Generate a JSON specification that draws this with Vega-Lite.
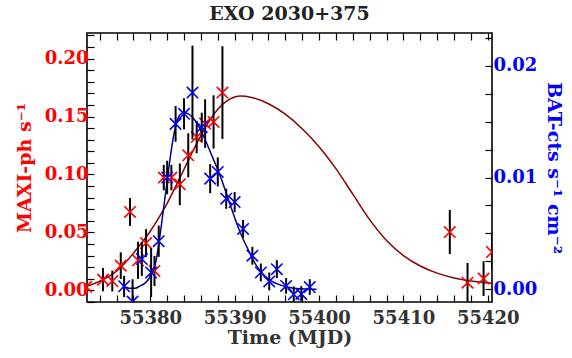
{
  "$schema": "https://vega.github.io/schema/vega-lite/v6.json",
  "width": 405,
  "height": 269,
  "autosize": {"type": "none"},
  "padding": {"left": 87, "top": 33, "right": 80, "bottom": 56},
  "background": "white",
  "title": {"text": "EXO 2030+375", "font": "DejaVu Serif", "fontSize": 19, "fontWeight": "bold", "color": "#222222", "anchor": "middle", "frame": "group", "offset": 2},
  "config": {
    "view": {"stroke": "black", "strokeWidth": 1.6},
    "axis": {"labelFont": "DejaVu Serif", "labelFontWeight": "bold", "labelFontSize": 18, "titleFont": "DejaVu Serif", "titleFontWeight": "bold", "titleFontSize": 19, "tickSize": -7, "tickColor": "black", "tickWidth": 1.2, "domain": false, "grid": false, "labelOverlap": false, "labelFlush": false}
  },
  "datasets": {
    "maxi": [
      {"t": 55372.4, "v": 0.003, "lo": -0.003, "hi": 0.009},
      {"t": 55374.4, "v": 0.0092, "lo": -0.0008, "hi": 0.0192},
      {"t": 55375.5, "v": 0.008, "lo": -0.001, "hi": 0.017},
      {"t": 55376.5, "v": 0.0213, "lo": 0.0098, "hi": 0.0328},
      {"t": 55377.6, "v": 0.0676, "lo": 0.0556, "hi": 0.0796},
      {"t": 55378.55, "v": 0.0259, "lo": 0.0099, "hi": 0.0419},
      {"t": 55379.5, "v": 0.0408, "lo": 0.0288, "hi": 0.0528},
      {"t": 55380.5, "v": 0.0167, "lo": 0.0037, "hi": 0.0297},
      {"t": 55381.6, "v": 0.0973, "lo": 0.0863, "hi": 0.1083},
      {"t": 55382.5, "v": 0.0973, "lo": 0.0863, "hi": 0.1083},
      {"t": 55383.5, "v": 0.0915, "lo": 0.0735, "hi": 0.1095},
      {"t": 55384.5, "v": 0.1165, "lo": 0.0975, "hi": 0.1355},
      {"t": 55385.5, "v": 0.1323, "lo": 0.1183, "hi": 0.1463},
      {"t": 55386.5, "v": 0.1439, "lo": 0.1229, "hi": 0.1649},
      {"t": 55387.5, "v": 0.1453, "lo": 0.1223, "hi": 0.1683},
      {"t": 55388.55, "v": 0.1707, "lo": 0.1307, "hi": 0.2107},
      {"t": 55415.5, "v": 0.0503, "lo": 0.0313, "hi": 0.0693},
      {"t": 55417.6, "v": 0.0066, "lo": -0.0104, "hi": 0.0236},
      {"t": 55419.5, "v": 0.0101, "lo": -0.0049, "hi": 0.0251},
      {"t": 55420.5, "v": 0.033, "lo": 0.018, "hi": 0.048}
    ],
    "maxifit": [
      {"t": 55372.5, "v": 0.0035},
      {"t": 55374.0, "v": 0.0078},
      {"t": 55375.0, "v": 0.0115},
      {"t": 55376.0, "v": 0.0165},
      {"t": 55377.0, "v": 0.0235},
      {"t": 55378.0, "v": 0.032},
      {"t": 55379.0, "v": 0.0412},
      {"t": 55380.0, "v": 0.051},
      {"t": 55381.0, "v": 0.0625},
      {"t": 55382.0, "v": 0.075},
      {"t": 55383.0, "v": 0.0895},
      {"t": 55384.0, "v": 0.1045},
      {"t": 55385.0, "v": 0.1195},
      {"t": 55386.0, "v": 0.1335},
      {"t": 55387.0, "v": 0.1462},
      {"t": 55388.0, "v": 0.1562},
      {"t": 55389.0, "v": 0.163},
      {"t": 55390.0, "v": 0.1668},
      {"t": 55390.7, "v": 0.1677},
      {"t": 55392.0, "v": 0.1665},
      {"t": 55394.0, "v": 0.161},
      {"t": 55396.0, "v": 0.152},
      {"t": 55398.0, "v": 0.1395},
      {"t": 55400.0, "v": 0.124},
      {"t": 55402.0, "v": 0.105},
      {"t": 55404.0, "v": 0.083},
      {"t": 55406.0, "v": 0.061},
      {"t": 55408.0, "v": 0.043},
      {"t": 55410.0, "v": 0.03},
      {"t": 55412.0, "v": 0.021},
      {"t": 55414.0, "v": 0.0148},
      {"t": 55416.0, "v": 0.0107},
      {"t": 55418.0, "v": 0.008},
      {"t": 55420.5, "v": 0.006}
    ],
    "bat": [
      {"t": 55376.9, "v": 0.00027, "lo": -0.0007, "hi": 0.0012},
      {"t": 55377.9, "v": -0.0011, "lo": -0.0031, "hi": 0.0009},
      {"t": 55379.0, "v": 0.0027, "lo": 0.0012, "hi": 0.0042},
      {"t": 55380.1, "v": 0.0015, "lo": -0.0007, "hi": 0.0037},
      {"t": 55381.0, "v": 0.0043, "lo": 0.0029, "hi": 0.0057},
      {"t": 55382.0, "v": 0.01, "lo": 0.0085, "hi": 0.0115},
      {"t": 55383.0, "v": 0.0148, "lo": 0.0132, "hi": 0.0164},
      {"t": 55384.0, "v": 0.0157, "lo": 0.0143, "hi": 0.0171},
      {"t": 55385.0, "v": 0.0176, "lo": 0.0134, "hi": 0.0218},
      {"t": 55386.1, "v": 0.0145, "lo": 0.0132, "hi": 0.0158},
      {"t": 55387.1, "v": 0.0099, "lo": 0.0086, "hi": 0.0112},
      {"t": 55388.0, "v": 0.0105, "lo": 0.0092, "hi": 0.0118},
      {"t": 55389.0, "v": 0.0081, "lo": 0.0072, "hi": 0.009},
      {"t": 55390.0, "v": 0.0078, "lo": 0.0069, "hi": 0.0087},
      {"t": 55391.0, "v": 0.0054, "lo": 0.0046, "hi": 0.0062},
      {"t": 55392.1, "v": 0.003, "lo": 0.0022, "hi": 0.0038},
      {"t": 55393.1, "v": 0.0015, "lo": 0.0007, "hi": 0.0023},
      {"t": 55394.1, "v": 0.0007, "lo": -0.0001, "hi": 0.0015},
      {"t": 55395.0, "v": 0.0018, "lo": 0.001, "hi": 0.0026},
      {"t": 55396.1, "v": 0.0003, "lo": -0.0004, "hi": 0.001},
      {"t": 55397.0, "v": -0.00045, "lo": -0.00115, "hi": 0.00025},
      {"t": 55397.9, "v": -0.00042, "lo": -0.00112, "hi": 0.00028},
      {"t": 55398.9, "v": 0.0002, "lo": -0.0005, "hi": 0.0009}
    ],
    "batfit": [
      {"t": 55376.7, "v": 0.00035},
      {"t": 55377.5, "v": 0.0001},
      {"t": 55378.2, "v": 0.0001},
      {"t": 55378.8, "v": 0.0003},
      {"t": 55379.3, "v": 0.0005},
      {"t": 55379.8, "v": 0.0009},
      {"t": 55380.3, "v": 0.0016},
      {"t": 55380.7, "v": 0.0026},
      {"t": 55381.0, "v": 0.004},
      {"t": 55381.5, "v": 0.0068},
      {"t": 55382.0, "v": 0.0097},
      {"t": 55382.5, "v": 0.0125},
      {"t": 55383.0, "v": 0.0146},
      {"t": 55383.5, "v": 0.0156},
      {"t": 55384.0, "v": 0.0158},
      {"t": 55384.5, "v": 0.0157},
      {"t": 55385.0, "v": 0.0154},
      {"t": 55385.5, "v": 0.0149},
      {"t": 55386.0, "v": 0.0142},
      {"t": 55386.5, "v": 0.0134},
      {"t": 55387.0, "v": 0.0125},
      {"t": 55387.5, "v": 0.0116},
      {"t": 55388.0, "v": 0.0107},
      {"t": 55388.5, "v": 0.0097},
      {"t": 55389.0, "v": 0.0086},
      {"t": 55389.5, "v": 0.0075},
      {"t": 55390.0, "v": 0.0064},
      {"t": 55390.5, "v": 0.0054},
      {"t": 55391.0, "v": 0.0045},
      {"t": 55391.5, "v": 0.0037},
      {"t": 55392.0, "v": 0.0029},
      {"t": 55392.6, "v": 0.0021},
      {"t": 55393.2, "v": 0.0015},
      {"t": 55394.0, "v": 0.0009},
      {"t": 55395.0, "v": 0.0005},
      {"t": 55396.0, "v": 0.00025},
      {"t": 55397.0, "v": 0.0001},
      {"t": 55398.0, "v": 0.00004},
      {"t": 55399.0, "v": 0.0},
      {"t": 55399.7, "v": 0.0}
    ]
  },
  "layer": [
    {
      "layer": [
        {
          "mark": {"type": "rule", "color": "black", "strokeDash": [6, 4], "strokeWidth": 1.2},
          "encoding": {
            "y": {"datum": 0, "type": "quantitative", "scale": {"domain": [-0.0101, 0.2221], "nice": false, "zero": false},
              "axis": {"orient": "left", "values": [-0.01, 0, 0.01, 0.02, 0.03, 0.04, 0.05, 0.06, 0.07, 0.08, 0.09, 0.1, 0.11, 0.12, 0.13, 0.14, 0.15, 0.16, 0.17, 0.18, 0.19, 0.2, 0.21, 0.22], "labelExpr": "abs(datum.value*20 - round(datum.value*20)) < 0.001 ? format(datum.value, '.2f') : ''", "labelColor": "#ff0000", "labelPadding": 6, "title": "MAXI-ph s⁻¹", "titleColor": "#ff0000", "titlePadding": 10}}
          }
        },
        {
          "data": {"name": "maxifit"},
          "mark": {"type": "line", "color": "#8b0000", "strokeWidth": 1.5, "interpolate": "monotone", "clip": true},
          "encoding": {
            "x": {"field": "t", "type": "quantitative", "scale": {"domain": [55372.5, 55420.5], "nice": false, "zero": false},
              "axis": {"orient": "bottom", "values": [55374, 55376, 55378, 55380, 55382, 55384, 55386, 55388, 55390, 55392, 55394, 55396, 55398, 55400, 55402, 55404, 55406, 55408, 55410, 55412, 55414, 55416, 55418, 55420], "labelExpr": "datum.value % 10 == 0 ? format(datum.value, 'd') : ''", "labelColor": "#333333", "labelPadding": 14, "title": "Time (MJD)", "titleColor": "#333333", "titlePadding": 1}},
            "y": {"field": "v", "type": "quantitative", "scale": {"domain": [-0.0101, 0.2221], "nice": false, "zero": false},
              "axis": {"orient": "left", "values": [-0.01, 0, 0.01, 0.02, 0.03, 0.04, 0.05, 0.06, 0.07, 0.08, 0.09, 0.1, 0.11, 0.12, 0.13, 0.14, 0.15, 0.16, 0.17, 0.18, 0.19, 0.2, 0.21, 0.22], "labelExpr": "abs(datum.value*20 - round(datum.value*20)) < 0.001 ? format(datum.value, '.2f') : ''", "labelColor": "#ff0000", "labelPadding": 6, "title": "MAXI-ph s⁻¹", "titleColor": "#ff0000", "titlePadding": 10}}
          }
        },
        {
          "data": {"name": "maxi"},
          "mark": {"type": "rule", "color": "black", "strokeWidth": 2, "clip": true},
          "encoding": {
            "x": {"field": "t", "type": "quantitative", "scale": {"domain": [55372.5, 55420.5], "nice": false, "zero": false},
              "axis": {"orient": "bottom", "values": [55374, 55376, 55378, 55380, 55382, 55384, 55386, 55388, 55390, 55392, 55394, 55396, 55398, 55400, 55402, 55404, 55406, 55408, 55410, 55412, 55414, 55416, 55418, 55420], "labelExpr": "datum.value % 10 == 0 ? format(datum.value, 'd') : ''", "labelColor": "#333333", "labelPadding": 14, "title": "Time (MJD)", "titleColor": "#333333", "titlePadding": 1}},
            "y": {"field": "lo", "type": "quantitative", "scale": {"domain": [-0.0101, 0.2221], "nice": false, "zero": false},
              "axis": {"orient": "left", "values": [-0.01, 0, 0.01, 0.02, 0.03, 0.04, 0.05, 0.06, 0.07, 0.08, 0.09, 0.1, 0.11, 0.12, 0.13, 0.14, 0.15, 0.16, 0.17, 0.18, 0.19, 0.2, 0.21, 0.22], "labelExpr": "abs(datum.value*20 - round(datum.value*20)) < 0.001 ? format(datum.value, '.2f') : ''", "labelColor": "#ff0000", "labelPadding": 6, "title": "MAXI-ph s⁻¹", "titleColor": "#ff0000", "titlePadding": 10}},
            "y2": {"field": "hi"}
          }
        },
        {
          "data": {"name": "maxi"},
          "mark": {"type": "point", "shape": "M-1,-1L1,1M-1,1L1,-1", "filled": false, "color": "#ff0000", "strokeWidth": 1.6, "size": 130, "opacity": 1, "clip": true},
          "encoding": {
            "x": {"field": "t", "type": "quantitative", "scale": {"domain": [55372.5, 55420.5], "nice": false, "zero": false},
              "axis": {"orient": "bottom", "values": [55374, 55376, 55378, 55380, 55382, 55384, 55386, 55388, 55390, 55392, 55394, 55396, 55398, 55400, 55402, 55404, 55406, 55408, 55410, 55412, 55414, 55416, 55418, 55420], "labelExpr": "datum.value % 10 == 0 ? format(datum.value, 'd') : ''", "labelColor": "#333333", "labelPadding": 14, "title": "Time (MJD)", "titleColor": "#333333", "titlePadding": 1}},
            "y": {"field": "v", "type": "quantitative", "scale": {"domain": [-0.0101, 0.2221], "nice": false, "zero": false},
              "axis": {"orient": "left", "values": [-0.01, 0, 0.01, 0.02, 0.03, 0.04, 0.05, 0.06, 0.07, 0.08, 0.09, 0.1, 0.11, 0.12, 0.13, 0.14, 0.15, 0.16, 0.17, 0.18, 0.19, 0.2, 0.21, 0.22], "labelExpr": "abs(datum.value*20 - round(datum.value*20)) < 0.001 ? format(datum.value, '.2f') : ''", "labelColor": "#ff0000", "labelPadding": 6, "title": "MAXI-ph s⁻¹", "titleColor": "#ff0000", "titlePadding": 10}}
          }
        }
      ]
    },
    {
      "layer": [
        {
          "data": {"name": "batfit"},
          "mark": {"type": "line", "color": "#00008b", "strokeWidth": 1.5, "interpolate": "monotone", "clip": true},
          "encoding": {
            "x": {"field": "t", "type": "quantitative", "scale": {"domain": [55372.5, 55420.5], "nice": false, "zero": false},
              "axis": {"orient": "top", "values": [55374, 55376, 55378, 55380, 55382, 55384, 55386, 55388, 55390, 55392, 55394, 55396, 55398, 55400, 55402, 55404, 55406, 55408, 55410, 55412, 55414, 55416, 55418, 55420], "labels": false, "title": null}},
            "y": {"field": "v", "type": "quantitative", "scale": {"domain": [-0.00114, 0.02293], "nice": false, "zero": false},
              "axis": {"orient": "right", "values": [0, 0.0025, 0.005, 0.0075, 0.01, 0.0125, 0.015, 0.0175, 0.02, 0.0225], "labelExpr": "abs(datum.value*100 - round(datum.value*100)) < 0.001 ? format(datum.value, '.2f') : ''", "labelColor": "#0000ff", "labelPadding": 8, "title": "BAT-cts s⁻¹ cm⁻²", "titleColor": "#0000ff", "titlePadding": 7, "titleAngle": 90}}
          }
        },
        {
          "data": {"name": "bat"},
          "mark": {"type": "rule", "color": "black", "strokeWidth": 2, "clip": true},
          "encoding": {
            "x": {"field": "t", "type": "quantitative", "scale": {"domain": [55372.5, 55420.5], "nice": false, "zero": false},
              "axis": {"orient": "top", "values": [55374, 55376, 55378, 55380, 55382, 55384, 55386, 55388, 55390, 55392, 55394, 55396, 55398, 55400, 55402, 55404, 55406, 55408, 55410, 55412, 55414, 55416, 55418, 55420], "labels": false, "title": null}},
            "y": {"field": "lo", "type": "quantitative", "scale": {"domain": [-0.00114, 0.02293], "nice": false, "zero": false},
              "axis": {"orient": "right", "values": [0, 0.0025, 0.005, 0.0075, 0.01, 0.0125, 0.015, 0.0175, 0.02, 0.0225], "labelExpr": "abs(datum.value*100 - round(datum.value*100)) < 0.001 ? format(datum.value, '.2f') : ''", "labelColor": "#0000ff", "labelPadding": 8, "title": "BAT-cts s⁻¹ cm⁻²", "titleColor": "#0000ff", "titlePadding": 7, "titleAngle": 90}},
            "y2": {"field": "hi"}
          }
        },
        {
          "data": {"name": "bat"},
          "mark": {"type": "point", "shape": "M-1,-1L1,1M-1,1L1,-1", "filled": false, "color": "#0000ff", "strokeWidth": 1.6, "size": 130, "opacity": 1, "clip": true},
          "encoding": {
            "x": {"field": "t", "type": "quantitative", "scale": {"domain": [55372.5, 55420.5], "nice": false, "zero": false},
              "axis": {"orient": "top", "values": [55374, 55376, 55378, 55380, 55382, 55384, 55386, 55388, 55390, 55392, 55394, 55396, 55398, 55400, 55402, 55404, 55406, 55408, 55410, 55412, 55414, 55416, 55418, 55420], "labels": false, "title": null}},
            "y": {"field": "v", "type": "quantitative", "scale": {"domain": [-0.00114, 0.02293], "nice": false, "zero": false},
              "axis": {"orient": "right", "values": [0, 0.0025, 0.005, 0.0075, 0.01, 0.0125, 0.015, 0.0175, 0.02, 0.0225], "labelExpr": "abs(datum.value*100 - round(datum.value*100)) < 0.001 ? format(datum.value, '.2f') : ''", "labelColor": "#0000ff", "labelPadding": 8, "title": "BAT-cts s⁻¹ cm⁻²", "titleColor": "#0000ff", "titlePadding": 7, "titleAngle": 90}}
          }
        }
      ]
    }
  ],
  "resolve": {"scale": {"y": "independent"}, "axis": {"x": "independent"}}
}
